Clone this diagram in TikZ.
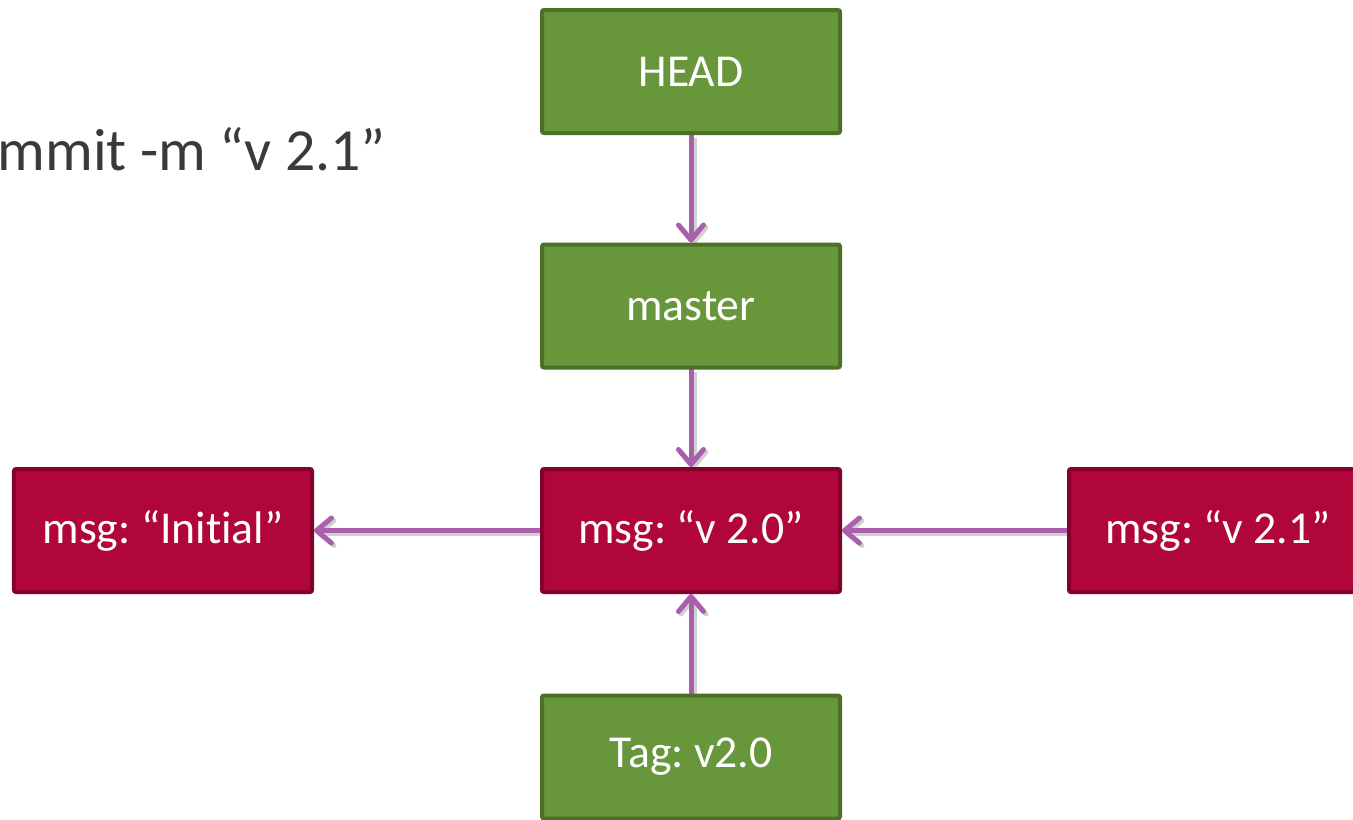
\documentclass[tikz,border=0pt]{standalone}
\usepackage{fontspec}
\setmainfont{Carlito}[Ligatures=NoCommon]
\usetikzlibrary{arrows.meta}
\pgfdeclarelayer{bg}
\pgfsetlayers{bg,main}
\frenchspacing
\definecolor{refgreen}{HTML}{68963B}
\definecolor{refgreenline}{HTML}{4C7028}
\definecolor{refred}{HTML}{B0063A}
\definecolor{refredline}{HTML}{86002C}
\definecolor{refarrow}{HTML}{A95FAC}
\definecolor{reftext}{HTML}{3A3A3A}
\tikzset{
    every node/.style={rectangle, inner sep=0mm, minimum width=5.96cm, minimum height=2.46cm,
        line width=0.08cm, rounded corners=0.04cm, text=white,
        font=\fontsize{26}{30}\selectfont},
    refbox/.style={fill=refgreen, draw=refgreenline},
    commitbox/.style={fill=refred, draw=refredline},
    pointer/.style={draw=refarrow, line width=0.1cm, line cap=round,
        -{Straight Barb[length=0.3cm, width=0.5cm, line width=0.1cm, round]},
        preaction={draw=black!18, line width=0.12cm, transform canvas={xshift=0.05cm, yshift=-0.05cm}}}
}

\begin{document}
\begin{tikzpicture}
        \useasboundingbox (0cm, 0cm) rectangle (27.06cm, -16.38cm);
        \node (cmd) [anchor=base east, minimum width=0cm, minimum height=0cm, text=reftext,
            font=\fontsize{34}{40}\selectfont] at (7.76cm, -3.40cm) {mmit -m “v 2.1”};
        \node (head) [refbox] at (13.82cm, -1.43cm) {HEAD};
        \node (master) [refbox] at (13.82cm, -6.12cm) {master};
        \node (c1) [commitbox] at (3.26cm, -10.61cm) {msg: “Initial”};
        \node (c2) [commitbox] at (13.82cm, -10.61cm) {msg: “v 2.0”};
        \node (c3) [commitbox] at (24.36cm, -10.61cm) {msg: “v 2.1”};
        \node (tag) [refbox] at (13.82cm, -15.14cm) {Tag: v2.0};
        \begin{pgfonlayer}{bg}
                \draw (head) edge [pointer] (master);
                \draw (master) edge [pointer] (c2);
                \draw (c2) edge [pointer] (c1);
                \draw (c3) edge [pointer] (c2);
                \draw (tag) edge [pointer] (c2);
        \end{pgfonlayer}
\end{tikzpicture}
\end{document}
